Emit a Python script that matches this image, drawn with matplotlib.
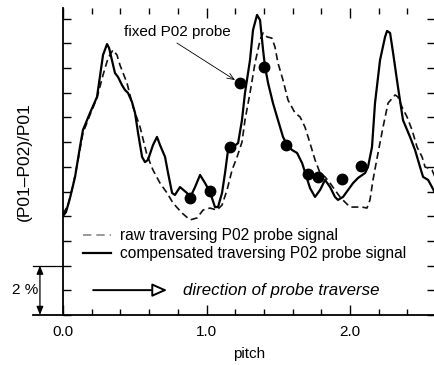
import matplotlib
matplotlib.use("Agg")
import matplotlib.pyplot as plt
from matplotlib.lines import Line2D

plt.rcParams["font.family"] = ["Liberation Sans", "DejaVu Sans"]

# -------------------------
# Data (pitch, signal in %)
# -------------------------
comp_pitch = [
    0.000, 0.021, 0.049, 0.084, 0.118, 0.139, 0.188, 0.237, 0.279, 0.307,
    0.321, 0.341, 0.362, 0.383, 0.411, 0.432, 0.453, 0.481, 0.502, 0.523,
    0.551, 0.571, 0.592, 0.627, 0.655, 0.676, 0.711, 0.732, 0.760, 0.780,
    0.815, 0.864, 0.885, 0.920, 0.955, 0.990, 1.024, 1.059, 1.080, 1.108,
    1.129, 1.150, 1.185, 1.220, 1.247, 1.268, 1.303, 1.324, 1.352, 1.373,
    1.394, 1.408, 1.429, 1.463, 1.498, 1.533, 1.561, 1.596, 1.631, 1.666,
    1.686, 1.721, 1.756, 1.791, 1.826, 1.861, 1.895, 1.916, 1.951, 1.986,
    2.021, 2.056, 2.105, 2.125, 2.153, 2.174, 2.209, 2.244, 2.258, 2.279,
    2.300, 2.334, 2.369, 2.418, 2.453, 2.488, 2.509, 2.544, 2.571, 2.592,
]
comp_signal = [
    4.01, 4.17, 4.74, 5.59, 6.80, 7.49, 8.18, 8.83, 10.53, 10.97,
    10.81, 10.32, 9.80, 9.64, 9.31, 9.11, 8.99, 8.62, 8.18, 7.37,
    6.40, 6.19, 6.28, 6.88, 7.21, 6.88, 6.40, 5.75, 4.94, 4.86,
    5.18, 4.94, 4.74, 5.18, 5.67, 5.34, 4.98, 4.37, 4.37, 4.94,
    5.75, 6.68, 6.80, 6.96, 7.89, 8.99, 10.32, 11.54, 12.15, 11.94,
    10.73, 10.04, 9.39, 8.58, 7.89, 7.21, 6.88, 6.68, 6.56, 6.15,
    5.79, 5.14, 4.78, 5.06, 5.47, 5.18, 4.78, 4.66, 4.78, 5.06,
    5.34, 5.55, 5.75, 5.99, 6.80, 8.58, 10.32, 11.26, 11.50, 11.42,
    10.61, 9.23, 7.89, 7.21, 6.68, 5.99, 5.59, 5.47, 5.18, 4.94,
]

raw_pitch = [
    0.000, 0.035, 0.070, 0.105, 0.139, 0.188, 0.237, 0.279, 0.314, 0.348,
    0.376, 0.397, 0.446, 0.488, 0.537, 0.585, 0.627, 0.676, 0.725, 0.767,
    0.829, 0.885, 0.934, 0.976, 1.024, 1.073, 1.108, 1.143, 1.178, 1.213,
    1.247, 1.268, 1.303, 1.338, 1.373, 1.394, 1.422, 1.456, 1.477, 1.498,
    1.533, 1.568, 1.617, 1.652, 1.686, 1.721, 1.756, 1.791, 1.826, 1.861,
    1.895, 1.930, 1.965, 2.000, 2.035, 2.084, 2.118, 2.139, 2.160, 2.195,
    2.230, 2.265, 2.314, 2.334, 2.362, 2.397, 2.432, 2.467, 2.502, 2.523,
    2.544, 2.571, 2.592,
]
raw_signal = [
    4.09, 4.45, 5.26, 6.28, 7.37, 8.10, 8.79, 9.72, 10.40, 10.73,
    10.53, 10.12, 9.39, 8.42, 7.61, 6.48, 5.87, 5.34, 4.94, 4.53,
    4.13, 3.85, 3.93, 4.25, 4.33, 4.25, 4.45, 5.06, 5.87, 6.40,
    7.00, 7.89, 8.99, 10.20, 11.13, 11.42, 11.26, 11.21, 10.85, 10.20,
    9.51, 8.70, 8.18, 8.02, 7.61, 6.96, 6.28, 5.75, 5.59, 5.34,
    5.06, 4.78, 4.57, 4.37, 4.37, 4.37, 4.33, 4.66, 5.47, 6.56,
    7.61, 8.58, 8.91, 8.83, 8.42, 8.02, 7.49, 6.80, 6.40, 5.99,
    5.95, 5.87, 5.59,
]

fixed_pitch = [0.885, 1.024, 1.164, 1.233, 1.401, 1.554, 1.707, 1.777, 1.944, 2.077]
fixed_signal = [4.74, 5.02, 6.80, 9.39, 10.04, 6.88, 5.71, 5.59, 5.51, 6.03]

x_major = [0.0, 1.0, 2.0]
x_labels = ["0.0", "1.0", "2.0"]

# -------------------------
# Figure
# -------------------------
fig = plt.figure(figsize=(4.35, 3.65), dpi=100)
ax = fig.add_axes([63 / 435, 50 / 365, 372 / 435, 307 / 365])

ax.plot(raw_pitch, raw_signal, color="#111111", lw=1.2, dashes=(4.2, 2.4))
ax.plot(comp_pitch, comp_signal, color="black", lw=1.6)
ax.plot(fixed_pitch, fixed_signal, "o", color="black", ms=7.5)

ax.set_xlim(0, 2.592)
ax.set_ylim(0, 12.43)

ax.set_xticks(x_major)
ax.set_xticklabels(x_labels)
ax.set_xticks([i * 0.2 for i in range(13)], minor=True)
ax.set_yticks(range(13))
ax.tick_params(axis="x", which="major", direction="in", length=7, width=1,
               top=True, labelsize=11, pad=7)
ax.tick_params(axis="x", which="minor", direction="in", length=4.5, width=1, top=True)
ax.tick_params(axis="y", direction="in", length=5.5, width=1, right=True,
               labelleft=False)
for s in ["top", "right"]:
    ax.spines[s].set_visible(False)
for s in ["left", "bottom"]:
    ax.spines[s].set_linewidth(1.3)

ax.set_xlabel("pitch", fontsize=11, labelpad=6)
ax.set_ylabel("(P01\u2013P02)/P01", fontsize=12.5)
ax.yaxis.set_label_coords(-0.085, 0.5)

# legend
handles = [
    Line2D([], [], color="#888888", lw=1.2, dashes=(5, 3)),
    Line2D([], [], color="black", lw=1.6),
]
ax.legend(handles, ["raw traversing P02 probe signal",
                    "compensated traversing P02 probe signal"],
          loc="upper left", bbox_to_anchor=(0.054, 0.283), frameon=False,
          borderpad=0, borderaxespad=0, handlelength=1.8, handletextpad=0.6,
          labelspacing=0.2, fontsize=11.2)

# direction of traverse
ax.annotate("", xy=(0.28, 0.081), xytext=(0.081, 0.081), xycoords="axes fraction",
            arrowprops=dict(arrowstyle="-|>,head_length=0.9,head_width=0.4",
                            lw=1.4, fc="white", ec="black",
                            shrinkA=0, shrinkB=0))
ax.text(0.323, 0.081, "direction of probe traverse", transform=ax.transAxes,
        fontsize=12.2, style="italic", va="center", ha="left")

# fixed probe annotation
ax.text(0.80, 11.46, "fixed P02 probe", fontsize=11, ha="center", va="center")
ax.annotate("", xy=(1.199, 9.51), xytext=(0.794, 11.01),
            arrowprops=dict(arrowstyle="->,head_length=0.5,head_width=0.2",
                            lw=0.6, color="black", shrinkA=0, shrinkB=0))

# 2 % scale bracket
tr = ax.get_yaxis_transform()
ax.plot([-0.081, 0], [0, 0], transform=tr, color="black", lw=1.3, clip_on=False)
ax.plot([-0.081, 0], [2, 2], transform=tr, color="black", lw=0.9, clip_on=False)
ax.annotate("", xy=(-0.062, 0), xytext=(-0.062, 2), xycoords=tr,
            arrowprops=dict(arrowstyle="<|-|>,head_length=0.5,head_width=0.2",
                            lw=0.9, color="black", shrinkA=0, shrinkB=0))
ax.text(-0.103, 1.0, "2 %", transform=tr, fontsize=11, ha="center", va="center")

fig.savefig("out.png", dpi=100)
